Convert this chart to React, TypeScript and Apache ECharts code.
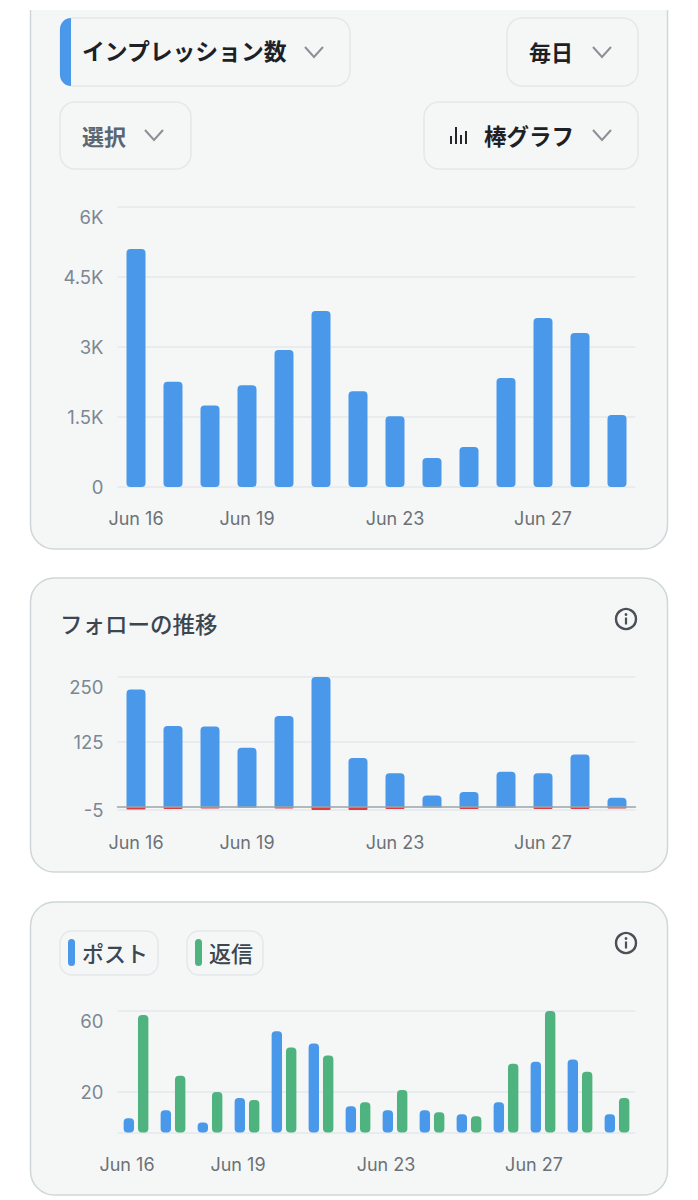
import React, { useEffect, useRef } from 'react';
import * as echarts from 'echarts';

const days = ['Jun 16', 'Jun 17', 'Jun 18', 'Jun 19', 'Jun 20', 'Jun 21', 'Jun 22', 'Jun 23', 'Jun 24', 'Jun 25', 'Jun 26', 'Jun 27', 'Jun 28', 'Jun 29'];
const shownDays = ['Jun 16', 'Jun 19', 'Jun 23', 'Jun 27'];

const impressions = [5100, 2255, 1745, 2180, 2935, 3770, 2050, 1515, 620, 855, 2335, 3620, 3300, 1545];
const followsGained = [226, 156, 155, 114, 175, 250, 94, 65, 22, 29, 68, 65, 101, 18];
const followsLost = [-5, -4, -3, -1, -3, -6, -6, -4, -1, -4, -1, -4, -4, -3];
const posts = [7, 11, 5, 17, 50, 44, 13, 11, 11, 9, 15, 35, 36, 9];
const replies = [58, 28, 20, 16, 42, 38, 15, 21, 10, 8, 34, 60, 30, 17];

const impressionTicks = [0, 1500, 3000, 4500, 6000];
const impressionLabels = ['0', '1.5K', '3K', '4.5K', '6K'];
const followTicks = [-5, 125, 250];
const postTicks = [0, 20, 60];
const postLabels = [20, 60];

const BLUE = '#4a98e9';
const GREEN = '#4fb37f';
const RED = '#e03c3c';
const GRID = '#e3e8ec';
const JP = '"Noto Sans CJK JP"';
const LATIN = 'Inter';

const xAxisFor = (gridIndex: number, margin: number, shift: number, showLine: boolean) => ({
  type: 'category',
  gridIndex,
  data: days,
  z: 3,
  axisLine: { show: showLine, onZero: true, lineStyle: { color: '#9aa5ad', width: 1.5 } },
  axisTick: { show: false },
  axisLabel: {
    interval: (_: number, value: string) => shownDays.includes(value),
    margin,
    fontFamily: LATIN,
    fontSize: 18,
    color: '#6c7176',
    padding: [0, shift, 0, 0],
  },
});

const yLabel = {
  margin: 14,
  fontFamily: LATIN,
  fontSize: 18.5,
  color: '#7b8794',
  verticalAlignMaxLabel: 'top',
};

const card = (y: number, height: number) => ({
  type: 'rect',
  z: -1,
  shape: { x: 30.5, y, width: 637, height, r: 24 },
  style: { fill: '#f5f7f7', stroke: '#cfd6da', lineWidth: 1.5 },
});

const pill = (x: number, y: number, width: number, height: number, r = 15) => ({
  type: 'rect',
  z: 0,
  shape: { x, y, width, height, r },
  style: { fill: '#f5f7f7', stroke: '#e4e8eb', lineWidth: 1.5 },
});

const label = (text: string, x: number, y: number, fontSize: number, fill: string, fontWeight = 500) => ({
  type: 'text',
  z: 5,
  x,
  y: y - 1.5,
  style: { text, fontFamily: JP, fontSize, fontWeight, fill, verticalAlign: 'middle' },
});

const chevron = (x: number, y: number) => ({
  type: 'polyline',
  z: 5,
  shape: { points: [[x, y], [x + 9, y + 10], [x + 18, y]] },
  style: { fill: 'none', stroke: '#8a9096', lineWidth: 2 },
});

const iconBar = (x: number, height: number) => ({
  type: 'rect',
  z: 5,
  shape: { x, y: 144 - height, width: 2, height },
  style: { fill: '#22272b' },
});

const infoIcon = (cx: number, cy: number) => [
  { type: 'circle', z: 5, shape: { cx, cy, r: 10 }, style: { fill: 'none', stroke: '#4a5058', lineWidth: 2.4 } },
  { type: 'circle', z: 5, shape: { cx, cy: cy - 4.5, r: 1.4 }, style: { fill: '#4a5058' } },
  { type: 'rect', z: 5, shape: { x: cx - 1.1, y: cy - 1.5, width: 2.2, height: 7 }, style: { fill: '#4a5058' } },
];

const App: React.FC = () => {
  const chartRef = useRef<HTMLDivElement>(null);

  useEffect(() => {
    const chart = echarts.init(chartRef.current, null, { renderer: 'svg' });

    const option = {
      animation: false,
      backgroundColor: '#ffffff',
      grid: [
        { left: 117.5, width: 518, top: 207, height: 280 },
        { left: 117.5, width: 518, top: 677, height: 132.6 },
        { left: 117.5, width: 518, top: 1011, height: 121.5 },
      ],
      xAxis: [
        xAxisFor(0, 22, 0, false),
        xAxisFor(1, 23.5, 0, true),
        xAxisFor(2, 23, 18, false),
      ],
      yAxis: [
        {
          type: 'value',
          gridIndex: 0,
          min: 0,
          max: 6000,
          interval: 1500,
          axisLine: { show: false },
          axisTick: { show: false },
          splitLine: { lineStyle: { color: GRID, width: 1.5 } },
          axisLabel: {
            ...yLabel,
            formatter: (value: number) => impressionLabels[impressionTicks.indexOf(value)],
          },
        },
        {
          type: 'value',
          gridIndex: 1,
          min: -5,
          max: 250,
          axisLine: { show: false },
          axisTick: { show: false, customValues: followTicks },
          splitLine: { lineStyle: { color: GRID, width: 1.5 } },
          axisLabel: { ...yLabel, customValues: followTicks },
        },
        {
          type: 'value',
          gridIndex: 2,
          min: 0,
          max: 60,
          axisLine: { show: false },
          axisTick: { show: false, customValues: postTicks },
          splitLine: { lineStyle: { color: GRID, width: 1.5 } },
          axisLabel: { ...yLabel, customValues: postLabels },
        },
      ],
      series: [
        {
          type: 'bar',
          xAxisIndex: 0,
          yAxisIndex: 0,
          data: impressions,
          barWidth: 19,
          itemStyle: { color: BLUE, borderRadius: 4 },
        },
        {
          type: 'bar',
          xAxisIndex: 1,
          yAxisIndex: 1,
          stack: 'follows',
          data: followsGained,
          barWidth: 19,
          clip: false,
          itemStyle: { color: BLUE, borderRadius: [4, 4, 0, 0] },
        },
        {
          type: 'bar',
          xAxisIndex: 1,
          yAxisIndex: 1,
          stack: 'follows',
          data: followsLost,
          barWidth: 19,
          clip: false,
          itemStyle: { color: RED, borderRadius: [0, 0, 1, 1] },
        },
        {
          type: 'bar',
          xAxisIndex: 2,
          yAxisIndex: 2,
          data: posts,
          barWidth: 10.4,
          barGap: '38%',
          itemStyle: { color: BLUE, borderRadius: 4 },
        },
        {
          type: 'bar',
          xAxisIndex: 2,
          yAxisIndex: 2,
          data: replies,
          barWidth: 10.4,
          barGap: '38%',
          itemStyle: { color: GREEN, borderRadius: 4 },
        },
      ],
      graphic: [
        card(-30, 579),
        card(578, 294),
        card(902, 293),
        { type: 'rect', z: 20, shape: { x: 0, y: 0, width: 698, height: 10 }, style: { fill: '#ffffff' } },

        pill(60, 18, 290, 68),
        { type: 'rect', z: 1, shape: { x: 60, y: 18, width: 11, height: 68, r: [15, 0, 0, 15] }, style: { fill: BLUE } },
        label('インプレッション数', 82, 52, 22.8, '#1d2125', 700),
        chevron(305, 47),

        pill(507, 18, 131, 68),
        label('毎日', 529, 52, 22, '#1d2125', 700),
        chevron(593, 47),

        pill(60, 102, 131, 67),
        label('選択', 82, 136, 22, '#5a6772', 700),
        chevron(145, 130),

        pill(424, 102, 214, 67),
        iconBar(450, 8),
        iconBar(455, 17),
        iconBar(460, 9),
        iconBar(465, 13),
        label('棒グラフ', 484, 136, 22.5, '#1d2125', 700),
        chevron(593, 130),

        label('フォローの推移', 60, 624, 22.5, '#3c4650'),
        ...infoIcon(626, 619),

        pill(60, 931, 98, 44, 12),
        { type: 'rect', z: 5, shape: { x: 68, y: 939, width: 7, height: 27, r: 3.5 }, style: { fill: BLUE } },
        label('ポスト', 82, 953, 22, '#3c4650'),
        pill(187, 931, 76, 44, 12),
        { type: 'rect', z: 5, shape: { x: 195, y: 939, width: 7, height: 27, r: 3.5 }, style: { fill: GREEN } },
        label('返信', 209, 953, 22, '#3c4650'),
        ...infoIcon(626, 943),
      ],
    };

    chart.setOption(option);

    return () => {
      chart.dispose();
    };
  }, []);

  return <div ref={chartRef} style={{ position: 'absolute', left: 0, top: 0, width: '698px', height: '1200px' }} />;
};

export default App;
